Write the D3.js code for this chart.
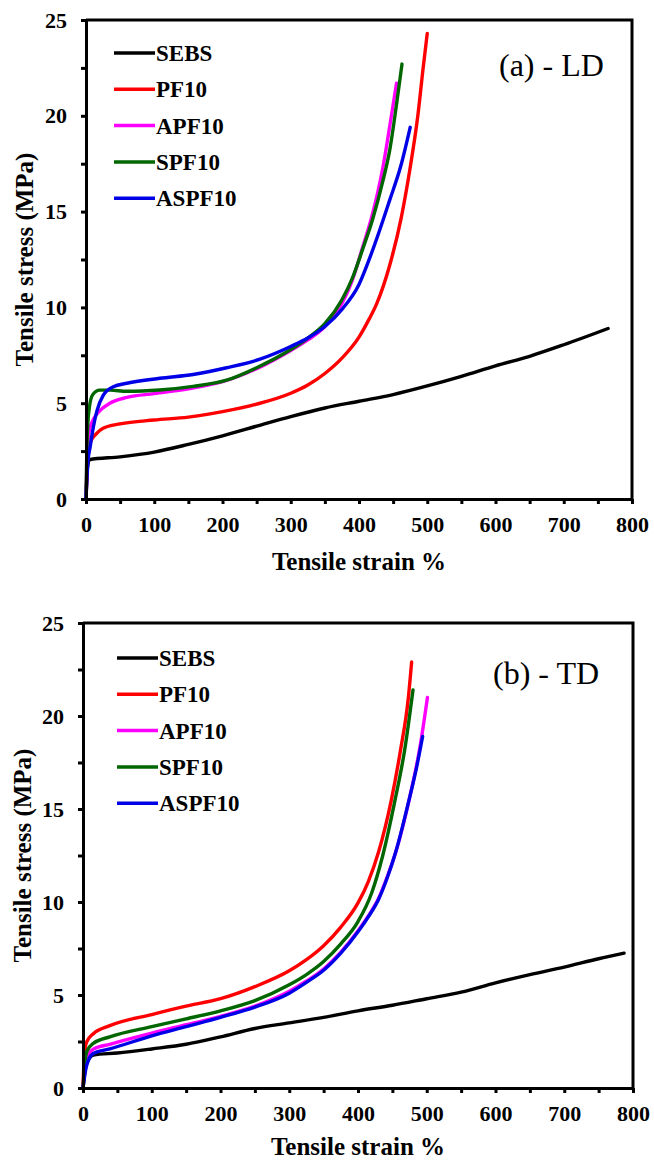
<!DOCTYPE html>
<html>
<head>
<meta charset="utf-8">
<script src="https://cdn.jsdelivr.net/npm/d3@7"></script>
<style>
  html, body { margin: 0; padding: 0; background: #fff; }
  svg { display: block; }
  text { font-family: "Liberation Serif", "Times New Roman", serif; }
</style>
</head>
<body>
<div id="chart"></div>
<script>
// series names and colours
const seriesNames = ['SEBS', 'PF10', 'APF10', 'SPF10', 'ASPF10'];
const seriesColors = ['#000000', '#ff0000', '#ff00ff', '#006600', '#0000e6'];

// panel (a) - LD : [strain %, stress MPa]
const sebsLD = [[0,0],[2,1.6],[5,2.05],[50,2.2],[100,2.45],[150,2.85],[200,3.3],[250,3.8],[300,4.3],[350,4.75],[400,5.1],[450,5.45],[500,5.9],[550,6.4],[600,6.95],[650,7.45],[700,8.05],[765,8.9]];
const pf10LD = [[0,0],[3,2.3],[7,3.0],[15,3.4],[25,3.69],[50,3.92],[100,4.12],[150,4.27],[200,4.56],[250,4.95],[300,5.52],[325,5.95],[350,6.55],[375,7.35],[400,8.45],[415,9.4],[426,10.2],[445,12.2],[462,14.7],[475,17.3],[486,19.95],[494,22.5],[500,24.3]];
const apf10LD = [[0,0],[2,2.5],[5,3.6],[10,4.1],[20,4.6],[35,5.0],[60,5.3],[100,5.5],[150,5.75],[200,6.12],[250,6.8],[300,7.75],[325,8.3],[350,9.0],[375,10.2],[390,11.4],[405,13.1],[420,14.9],[435,17.3],[447,19.9],[455,21.7]];
const spf10LD = [[0,0],[2,3.5],[5,4.8],[10,5.45],[20,5.68],[35,5.68],[60,5.62],[108,5.69],[157,5.88],[206,6.2],[250,6.85],[300,7.8],[325,8.4],[350,9.15],[375,10.4],[390,11.5],[405,13.0],[420,14.6],[435,16.6],[445,18.2],[455,20.6],[463,22.7]];
const aspf10LD = [[0,0],[3,2.0],[6,2.7],[11,3.8],[16,4.6],[25,5.4],[40,5.86],[60,6.04],[108,6.3],[157,6.5],[206,6.85],[255,7.3],[300,7.96],[325,8.4],[350,9.0],[375,9.9],[400,11.2],[417,12.7],[430,14.0],[445,15.6],[461,17.35],[475,19.4]];

// panel (b) - TD
const sebsTD = [[0,0],[5,1.3],[15,1.77],[50,1.88],[100,2.1],[150,2.35],[200,2.75],[250,3.2],[300,3.5],[350,3.8],[400,4.15],[450,4.45],[500,4.8],[550,5.15],[600,5.65],[650,6.1],[700,6.5],[750,6.95],[787,7.25]];
const pf10TD = [[0,0],[2,1.8],[5,2.45],[15,2.92],[39,3.35],[100,3.95],[150,4.4],[200,4.8],[250,5.45],[300,6.3],[325,6.9],[350,7.65],[375,8.65],[400,9.95],[415,11.1],[430,12.7],[448,15.4],[462,18.2],[473,20.9],[478,22.9]];
const spf10TD = [[0,0],[3,1.5],[6,2.0],[15,2.4],[39,2.75],[100,3.3],[150,3.72],[200,4.15],[250,4.7],[300,5.55],[325,6.1],[350,6.8],[375,7.75],[400,8.95],[420,10.5],[436,12.5],[454,15.5],[468,18.2],[480,21.4]];
const apf10TD = [[0,0],[3,1.2],[8,1.8],[15,2.09],[39,2.35],[100,2.95],[150,3.4],[200,3.85],[250,4.4],[300,5.2],[325,5.75],[350,6.4],[375,7.3],[400,8.45],[415,9.25],[430,10.2],[442,11.3],[455,12.7],[475,15.6],[490,18.3],[501,21.0]];
const aspf10TD = [[0,0],[4,1.0],[8,1.5],[15,1.85],[39,2.1],[100,2.8],[150,3.3],[200,3.8],[250,4.35],[300,5.1],[325,5.68],[350,6.33],[375,7.25],[400,8.4],[415,9.2],[430,10.15],[442,11.25],[455,12.7],[475,15.6],[485,17.2],[494,18.9]];

// axis ticks
const xTicks = d3.range(0, 801, 50);
const yTicks = d3.range(0, 25.01, 2.5);

const W = 654, H = 1160;
const svg = d3.select('#chart').append('svg')
    .attr('width', W)
    .attr('height', H);

function drawPanel(p) {
    const x = d3.scaleLinear().domain([0, 800]).range([p.left, p.right]);
    const y = d3.scaleLinear().domain([0, 25]).range([p.bottom, p.top]);
    const g = svg.append('g');

    // curves
    const line = d3.line()
        .x(d => x(d[0]))
        .y(d => y(d[1]))
        .curve(d3.curveMonotoneX);

    p.series.forEach((s, i) => {
        g.append('path')
            .datum(s)
            .attr('d', line)
            .attr('fill', 'none')
            .attr('stroke', seriesColors[i])
            .attr('stroke-width', 3.4)
            .attr('stroke-linejoin', 'round')
            .attr('stroke-linecap', 'round');
    });

    // frame (top and right)
    g.append('path')
        .attr('d', `M${p.left},${p.top}H${p.right}V${p.bottom}`)
        .attr('fill', 'none')
        .attr('stroke', '#000')
        .attr('stroke-width', 3);

    // x axis
    const xAxis = g.append('g')
        .attr('transform', `translate(0,${p.bottom})`)
        .call(d3.axisBottom(x)
            .tickValues(xTicks)
            .tickSize(5)
            .tickSizeOuter(0)
            .tickPadding(12)
            .tickFormat(d => d % 100 === 0 ? d : ''));

    // y axis
    const yAxis = g.append('g')
        .attr('transform', `translate(${p.left},0)`)
        .call(d3.axisLeft(y)
            .tickValues(yTicks)
            .tickSize(5)
            .tickSizeOuter(0)
            .tickPadding(14)
            .tickFormat(d => d % 5 === 0 ? d : ''));

    [xAxis, yAxis].forEach(a => {
        a.select('.domain').attr('stroke', '#000').attr('stroke-width', 3);
        a.selectAll('.tick line').attr('stroke', '#000').attr('stroke-width', 3);
        a.selectAll('.tick text')
            .attr('fill', '#000')
            .style('font-family', '"Liberation Serif", serif')
            .style('font-size', '22px')
            .style('font-weight', 'bold');
    });

    // axis titles
    g.append('text')
        .attr('x', (p.left + p.right) / 2)
        .attr('y', p.xTitleY)
        .attr('text-anchor', 'middle')
        .style('font-size', '25px')
        .style('font-weight', 'bold')
        .text('Tensile strain %');

    g.append('text')
        .attr('transform', `translate(${p.yTitleX},${(p.top + p.bottom) / 2}) rotate(-90)`)
        .attr('text-anchor', 'middle')
        .style('font-size', '25px')
        .style('font-weight', 'bold')
        .text('Tensile stress (MPa)');

    // panel label
    g.append('text')
        .attr('x', p.labelX)
        .attr('y', p.labelY)
        .style('font-size', '32px')
        .text(p.label);

    // legend
    const leg = g.append('g');
    seriesNames.forEach((name, i) => {
        const ly = p.legendY + i * 36.3;
        leg.append('line')
            .attr('x1', p.legendX).attr('x2', p.legendX + 41)
            .attr('y1', ly).attr('y2', ly)
            .attr('stroke', seriesColors[i])
            .attr('stroke-width', 3.5);
        leg.append('text')
            .attr('x', p.legendX + 42)
            .attr('y', ly)
            .attr('dy', '0.35em')
            .style('font-size', '23px')
            .style('font-weight', 'bold')
            .text(name);
    });
}

drawPanel({
    left: 86, right: 632, top: 20, bottom: 499,
    series: [sebsLD, pf10LD, apf10LD, spf10LD, aspf10LD],
    xTitleY: 570, yTitleX: 33,
    label: '(a) - LD', labelX: 499, labelY: 76,
    legendX: 114, legendY: 53
});

drawPanel({
    left: 83, right: 633, top: 623, bottom: 1088,
    series: [sebsTD, pf10TD, apf10TD, spf10TD, aspf10TD],
    xTitleY: 1155, yTitleX: 31,
    label: '(b) - TD', labelX: 493, labelY: 684,
    legendX: 117, legendY: 658
});
</script>
</body>
</html>
